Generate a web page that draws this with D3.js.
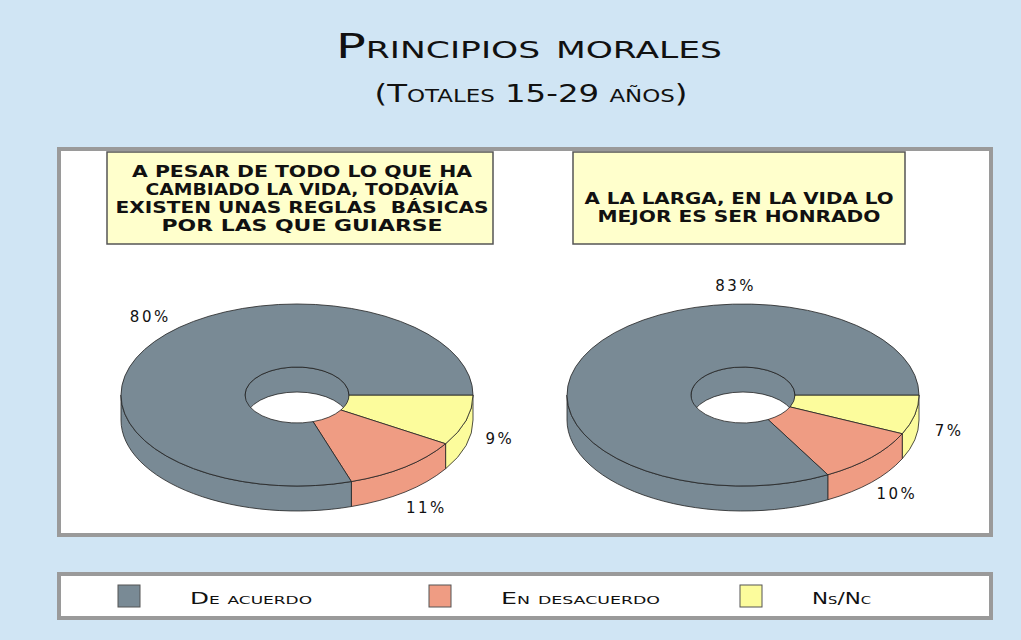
<!DOCTYPE html>
<html>
<head>
<meta charset="utf-8">
<script src="https://cdn.jsdelivr.net/npm/d3@7"></script>
<style>
  body { margin: 0; background: #d0e5f4; }
  text { font-family: "DejaVu Sans", sans-serif; fill: #111; white-space: pre; }
</style>
</head>
<body>
<svg id="chart"></svg>
<script>
// --- data ---
const categories = ['De acuerdo', 'En desacuerdo', 'Ns/Nc'];
const questionLines = [
    ['A PESAR DE TODO LO QUE HA', 'CAMBIADO LA VIDA, TODAVÍA', 'EXISTEN UNAS REGLAS  BÁSICAS', 'POR LAS QUE GUIARSE'],
    ['A LA LARGA, EN LA VIDA LO', 'MEJOR ES SER HONRADO']
];
const valuesReglas = [80, 11, 9];
const valuesHonrado = [83, 10, 7];
const seriesValues = [valuesReglas, valuesHonrado];

// --- layout / styles ---
const colors = ['#798a95', '#ef9c83', '#fcfc9c'];
const W = 1021, H = 640;
const outer = { rx: 176, ry: 91 };
const inner = { rx: 52, ry: 28 };
const depth = 25;
const bigLabelAngles = [226, 268]; // where the big slice's label was dragged to

const svg = d3.select('#chart').attr('width', W).attr('height', H);
svg.append('rect').attr('width', W).attr('height', H).attr('fill', '#d0e5f4');

// title
svg.append('text')
    .attr('x', 529).attr('y', 58)
    .attr('text-anchor', 'middle')
    .attr('font-size', 33)
    .attr('font-variant', 'small-caps')
    .attr('textLength', 386).attr('lengthAdjust', 'spacingAndGlyphs')
    .text('Principios morales');
svg.append('text')
    .attr('x', 531).attr('y', 102)
    .attr('text-anchor', 'middle')
    .attr('font-size', 24)
    .attr('font-variant', 'small-caps')
    .attr('textLength', 313).attr('lengthAdjust', 'spacingAndGlyphs')
    .text('(Totales 15-29 años)');

// white panel
svg.append('rect')
    .attr('x', 59).attr('y', 149).attr('width', 932).attr('height', 386)
    .attr('fill', '#fff').attr('stroke', '#9a9a9a').attr('stroke-width', 4);

const cxScale = d3.scalePoint().domain([0, 1]).range([297, 743]);
const cy = 395;

// question boxes
const boxes = [{ x: 107, w: 386, widths: [340, 313, 373, 281], y0: 177 },
               { x: 573, w: 332, widths: [309, 283], y0: 204 }];
boxes.forEach((b, k) => {
    svg.append('rect')
        .attr('x', b.x).attr('y', 152).attr('width', b.w).attr('height', 92)
        .attr('fill', '#ffffcc').attr('stroke', '#555').attr('stroke-width', 1.5);
    svg.append('g').selectAll('text')
        .data(questionLines[k])
        .join('text')
        .attr('x', b.x + b.w / 2 + (k === 0 ? 2 : 0))
        .attr('y', (d, i) => b.y0 + i * 18)
        .attr('text-anchor', 'middle')
        .attr('font-size', 16)
        .attr('font-weight', 'bold')
        .attr('textLength', (d, i) => b.widths[i])
        .attr('lengthAdjust', 'spacingAndGlyphs')
        .text(d => d);
});

// 3D donuts
// pie angle 0 = 3 o'clock, growing clockwise on screen; order reversed so Ns/Nc starts at 3 o'clock
const pie = d3.pie().sort(null).value(d => d.value);

const ellPt = (c, e, t, dy = 0) => [c[0] + e.rx * Math.cos(t), c[1] + e.ry * Math.sin(t) + dy];
const arcTo = (e, p, large, sweep) => `A${e.rx},${e.ry} 0 ${large} ${sweep} ${p[0]},${p[1]}`;

function band(c, e, a, b) {
    const large = b - a > Math.PI ? 1 : 0;
    return `M${ellPt(c, e, a)}${arcTo(e, ellPt(c, e, b), large, 1)}` +
        `L${ellPt(c, e, b, depth)}${arcTo(e, ellPt(c, e, a, depth), large, 0)}Z`;
}
function face(c, a, b) {
    const large = b - a > Math.PI ? 1 : 0;
    return `M${ellPt(c, outer, a)}${arcTo(outer, ellPt(c, outer, b), large, 1)}` +
        `L${ellPt(c, inner, b)}${arcTo(inner, ellPt(c, inner, a), large, 0)}Z`;
}

seriesValues.forEach((values, k) => {
    const c = [cxScale(k), cy];
    const arcs = pie(categories.map((cat, i) => ({ cat, i, value: values[i] })).reverse());
    const g = svg.append('g').attr('stroke', '#222').attr('stroke-width', 0.8).attr('stroke-linejoin', 'round');

    // outer front wall
    arcs.forEach(s => {
        const a = Math.max(s.startAngle, 0), b = Math.min(s.endAngle, Math.PI);
        if (b > a) g.append('path').attr('d', band(c, outer, a, b)).attr('fill', colors[s.data.i]);
    });
    // back inner wall seen through the hole
    arcs.forEach(s => {
        const a = Math.max(s.startAngle, Math.PI), b = Math.min(s.endAngle, 2 * Math.PI);
        if (b > a) g.append('path').attr('d', band(c, inner, a, b)).attr('fill', colors[s.data.i]);
    });
    // top faces
    g.selectAll('path.top')
        .data(arcs)
        .join('path')
        .attr('class', 'top')
        .attr('d', s => face(c, s.startAngle, s.endAngle))
        .attr('fill', s => colors[s.data.i]);

    // labels
    const biggest = d3.greatestIndex(values);
    svg.append('g').selectAll('text')
        .data(arcs)
        .join('text')
        .attr('transform', s => {
            let x, y;
            if (s.data.i === biggest) {
                const t = bigLabelAngles[k] * Math.PI / 180;
                x = c[0] + 1.2 * outer.rx * Math.cos(t);
                y = c[1] + 1.2 * outer.ry * Math.sin(t);
            } else {
                const t = (s.startAngle + s.endAngle) / 2;
                x = c[0] + 1.2 * outer.rx * Math.cos(t);
                y = c[1] + 6 + 1.48 * outer.ry * Math.sin(t);
            }
            return `translate(${x},${y})`;
        })
        .attr('text-anchor', 'middle')
        .attr('dy', '0.36em')
        .attr('font-size', 15)
        .attr('letter-spacing', 2.5)
        .text(s => s.data.value + '%');
});

// legend
svg.append('rect')
    .attr('x', 59).attr('y', 574).attr('width', 932).attr('height', 44)
    .attr('fill', '#fff').attr('stroke', '#9a9a9a').attr('stroke-width', 4);
const legX = d3.scaleLinear().domain([0, 1]).range([118, 429]);
const legWidths = [122, 159, 59];
const leg = svg.append('g').selectAll('g')
    .data(categories)
    .join('g')
    .attr('transform', (d, i) => `translate(${legX(i)},585)`);
leg.append('rect')
    .attr('width', 22).attr('height', 22)
    .attr('fill', (d, i) => colors[i])
    .attr('stroke', '#555').attr('stroke-width', 1);
leg.append('text')
    .attr('x', 72).attr('y', 19)
    .attr('font-size', 16)
    .attr('font-variant', 'small-caps')
    .attr('textLength', (d, i) => legWidths[i])
    .attr('lengthAdjust', 'spacingAndGlyphs')
    .text(d => d);
</script>
</body>
</html>
